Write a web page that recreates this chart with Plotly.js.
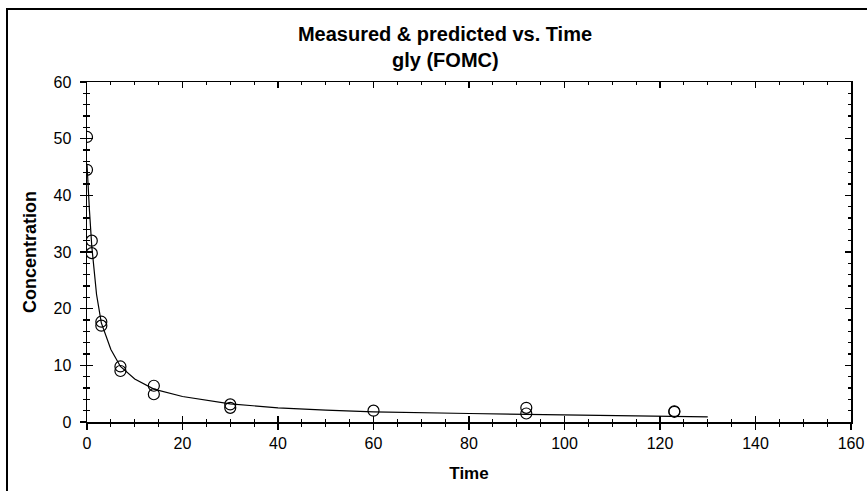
<!DOCTYPE html>
<html>
<head>
<meta charset="utf-8">
<script src="https://cdn.plot.ly/plotly-3.0.1.min.js"></script>
<style>
  html, body { margin: 0; padding: 0; background: #fff; overflow: hidden; }
  #chart { position: absolute; left: 0; top: 0; width: 867px; height: 491px; }
  #frame { position: absolute; left: 6px; top: 8px; width: 900px; height: 600px;
           border: 2px solid #000; pointer-events: none; }
</style>
</head>
<body>
<div id="chart"></div>
<div id="frame"></div>
<script>
// Measured data
const timeMeasured = [0, 0, 1, 1, 3, 3, 7, 7, 14, 14, 30, 30, 60, 92, 92, 123, 123];
const concMeasured = [50.3, 44.5, 32.0, 29.8, 17.7, 17.0, 9.8, 9.0, 6.4, 4.9, 3.1, 2.5, 2.0, 2.5, 1.5, 1.9, 1.8];

// Predicted (FOMC) curve
const timePredicted = [0, 0.25, 0.5, 1, 2, 3, 5, 7, 10, 14, 20, 30, 40, 50, 60, 80, 100, 120, 130];
const concPredicted = [45.5, 41.0, 37.5, 31.0, 22.5, 17.5, 12.8, 9.8, 7.6, 5.8, 4.5, 3.2, 2.5, 2.1, 1.8, 1.5, 1.25, 1.0, 0.9];

const titleLine1 = 'Measured & predicted vs. Time';
const titleLine2 = 'gly (FOMC)';
const xTitle = 'Time';
const yTitle = 'Concentration';

const FONT = '"Liberation Sans", Arial, sans-serif';

const traces = [
  {
    x: timePredicted, y: concPredicted, type: 'scatter', mode: 'lines',
    line: { color: '#000', width: 1.2 }, showlegend: false, hoverinfo: 'skip'
  },
  {
    x: timeMeasured, y: concMeasured, type: 'scatter', mode: 'markers',
    marker: { symbol: 'circle-open', size: 11, color: '#000', line: { color: '#000', width: 1.2 } },
    showlegend: false
  },
  { x: [], y: [], xaxis: 'x2', yaxis: 'y2', type: 'scatter', mode: 'markers', showlegend: false, hoverinfo: 'skip' }
];

const baseAxis = {
  showgrid: false, zeroline: false, tickcolor: '#000', tickwidth: 1.3
};

const layout = {
  width: 867, height: 491,
  margin: { l: 87, r: 16, t: 82, b: 69 },
  paper_bgcolor: '#fff', plot_bgcolor: '#fff',
  font: { family: FONT, color: '#000', size: 16 },
  title: {
    text: '<b>' + titleLine1 + '</b>',
    font: { family: FONT, size: 20, color: '#000' },
    x: 445 / 867, xref: 'container', xanchor: 'center',
    y: 1 - 34 / 491, yref: 'container', yanchor: 'middle'
  },
  annotations: [{
    text: '<b>' + titleLine2 + '</b>', showarrow: false,
    xref: 'paper', yref: 'paper',
    x: (445 - 87) / 764, y: 1 + (82 - 60) / 340,
    xanchor: 'center', yanchor: 'middle',
    font: { family: FONT, size: 20, color: '#000' }
  }],
  xaxis: Object.assign({}, baseAxis, {
    range: [0, 160], tick0: 0, dtick: 20, ticks: 'outside', ticklen: 6,
    minor: { dtick: 5, ticks: 'outside', ticklen: 3, tickcolor: '#000', tickwidth: 1.2 },
    showline: true, linecolor: '#000', linewidth: 1.5, mirror: true,
    tickfont: { family: FONT, size: 16, color: '#000' },
    title: { text: '<b>' + xTitle + '</b>', font: { family: FONT, size: 17, color: '#000' }, standoff: 16 }
  }),
  xaxis2: Object.assign({}, baseAxis, {
    range: [0, 160], overlaying: 'x', anchor: 'y', tick0: 0, dtick: 20, ticks: 'inside', ticklen: 6,
    minor: { dtick: 5, ticks: 'inside', ticklen: 3, tickcolor: '#000', tickwidth: 1.2 },
    showline: false, mirror: 'ticks', showticklabels: false
  }),
  yaxis: Object.assign({}, baseAxis, {
    range: [0, 60], tick0: 0, dtick: 10, ticks: 'outside', ticklen: 6,
    minor: { dtick: 2, ticks: 'outside', ticklen: 3, tickcolor: '#000', tickwidth: 1.2 },
    showline: true, linecolor: '#000', linewidth: 1.5, mirror: true,
    ticklabelstandoff: 5,
    tickfont: { family: FONT, size: 16, color: '#000' },
    title: { text: '<b>' + yTitle + '</b>', font: { family: FONT, size: 18, color: '#000' }, standoff: 12 }
  }),
  yaxis2: Object.assign({}, baseAxis, {
    range: [0, 60], overlaying: 'y', anchor: 'x', side: 'left', tick0: 0, dtick: 10, ticks: 'inside', ticklen: 6,
    minor: { dtick: 2, ticks: 'inside', ticklen: 3, tickcolor: '#000', tickwidth: 1.2 },
    showline: false, mirror: 'ticks', showticklabels: false
  })
};

Plotly.newPlot('chart', traces, layout, { staticPlot: true, displayModeBar: false });
</script>
</body>
</html>
